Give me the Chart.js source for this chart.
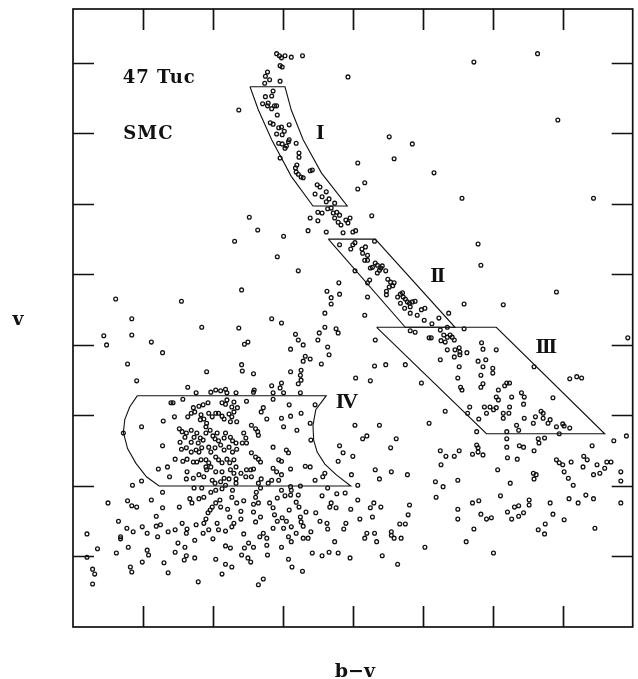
<!DOCTYPE html>
<html>
<head>
<meta charset="utf-8">
<script src="https://cdn.jsdelivr.net/npm/chart.js@4"></script>
<style>
  html, body { margin: 0; padding: 0; background: #fff; }
  #cmd { display: block; }
</style>
</head>
<body>
<canvas id="cmd" width="638" height="679"></canvas>
<script>
// axes: b-v across (one tick per unit), v up the side (one tick per unit), no tick labels
const xTicks = [1, 2, 3, 4, 5, 6, 7];
const yTicks = [1, 2, 3, 4, 5, 6, 7, 8];
const xRange = [0, 8];
const yRange = [0, 8.763];

// stars, [b-v, v]
const giantBranch = [
  [2.91,8.13],[2.95,8.10],[2.98,8.07],[3.03,8.10],[3.12,8.08],[3.28,8.10],[2.96,7.96],[2.99,7.94],
  [3.93,7.80],[2.78,7.87],[2.75,7.81],[2.74,7.71],[2.81,7.76],[2.96,7.74],[2.86,7.60],[2.84,7.53],
  [2.75,7.52],[2.71,7.42],[2.78,7.39],[2.84,7.35],[2.88,7.39],[2.91,7.39],[2.79,7.43],[2.92,7.26],
  [2.37,7.33],[2.82,7.15],[2.86,7.13],[2.94,7.08],[2.98,7.09],[3.09,7.12],[3.02,7.03],[2.91,6.99],
  [2.99,6.98],[2.94,6.86],[2.99,6.85],[3.05,6.82],[3.08,6.88],[3.09,6.91],[3.19,6.86],[3.03,6.79],
  [2.96,6.65],[3.23,6.72],[3.23,6.66],[3.20,6.55],[3.18,6.51],[3.19,6.45],[3.22,6.42],[3.26,6.38],
  [3.29,6.37],[3.39,6.47],[3.42,6.48],[3.49,6.27],[3.53,6.24],[3.46,6.14],[3.56,6.10],[3.62,6.17],
  [3.66,6.07],[3.62,6.03],[3.74,6.01],[2.52,5.81]
];

const upperStars = [
  [5.73,8.01],[6.64,8.13],[6.93,7.19],[4.52,6.95],[4.85,6.85],[4.59,6.64],[5.16,6.44],[5.56,6.08],
  [7.44,6.08],[4.17,6.30],[4.07,6.21],[4.07,6.58]
];

const midStars = [
  [3.50,5.88],[3.56,5.87],[3.64,5.93],[3.69,5.94],[3.72,5.87],[3.77,5.88],[3.81,5.84],[3.74,5.80],
  [3.79,5.74],[3.83,5.70],[3.90,5.77],[3.96,5.80],[3.93,5.73],[4.00,5.60],[4.04,5.62],[3.86,5.59],
  [3.62,5.60],[3.36,5.62],[3.39,5.80],[3.50,5.76],[4.27,5.83],
  [3.81,5.42],[3.97,5.36],[4.00,5.42],[4.03,5.45],[4.13,5.36],[4.14,5.30],[4.18,5.39],[4.21,5.27],
  [4.17,5.20],[4.21,5.20],[4.31,5.47],[4.28,5.10],[4.32,5.16],[4.35,5.13],[4.38,5.06],[4.40,5.09],
  [4.42,5.12],[4.47,5.05],[4.35,5.02],[4.25,5.09],[4.24,4.92],[4.21,4.88],[4.50,4.93],[4.54,4.89],
  [4.59,4.88],[4.57,4.84],[4.52,4.82],[4.48,4.76],[4.48,4.71],[4.64,4.68],[4.68,4.72],[4.71,4.74],
  [4.72,4.68],[4.75,4.65],[4.78,4.61],[4.81,4.59],[4.85,4.61],[4.89,4.62],[4.68,4.59],[4.74,4.52],
  [4.82,4.54],[4.82,4.45],[4.92,4.42],[4.98,4.50],[5.03,4.52],[5.02,4.35],[5.13,4.30],[5.23,4.38],
  [5.37,4.45],
  [3.80,4.88],[3.81,4.72],[3.63,4.76],[3.69,4.67],[3.69,4.58],[3.60,4.45],[4.21,4.68],[4.17,4.42],
  [4.03,5.05],[3.22,5.05],[5.79,5.43],[5.83,5.13],[6.91,4.75],[6.15,4.57],[5.59,4.58],[7.93,4.10],
  [4.82,4.20],[4.89,4.18],[5.09,4.10],[5.12,4.10],[5.25,4.21],[5.30,4.14],[5.26,4.06],[5.32,4.04],
  [5.35,4.11],[5.39,4.14],[5.42,4.11],[5.45,4.07],[5.35,4.25],[5.59,4.23],[5.46,3.93],[5.52,3.96],
  [5.53,3.90],[5.53,3.86],[5.63,3.89],[5.45,3.83],[5.25,3.79],[5.35,3.93],[5.84,4.03],[5.86,3.94],
  [6.05,3.93],[5.79,3.77],[5.90,3.79],[6.00,3.67],[6.00,3.60],[5.86,3.69],[5.83,3.57],[5.86,3.45],
  [5.83,3.40],[5.52,3.69],[5.50,3.53],[5.54,3.40],[5.56,3.36],[6.08,3.36],[6.20,3.46],[6.24,3.46],
  [6.17,3.42],[6.05,3.26],[6.08,3.22],[5.96,3.12],[5.88,3.12],[5.91,3.03],[6.01,3.08],[6.05,3.11],
  [6.15,3.03],[6.24,3.12],[6.27,3.26],[6.41,3.32],[6.45,3.26],[6.44,3.16],[6.59,3.69],[5.67,3.12],
  [5.64,3.03],[5.80,2.95],[5.77,2.77],[6.15,2.96],[6.23,3.03],[6.34,2.86],[6.37,2.79],[6.20,2.77],
  [6.20,2.67],[6.45,2.96],[6.58,2.89],[6.61,2.98],[6.69,3.06],[6.72,3.03],[6.72,2.96],[6.79,2.89],
  [6.82,2.94],[6.91,2.84],[7.00,2.88],[7.02,2.85],[7.10,2.82],[6.95,2.74],[6.86,3.25],[7.10,3.52],
  [7.20,3.55],[7.27,3.53],
  [4.32,4.07],[4.31,3.70],[4.47,3.72],[4.75,3.72],[4.98,3.46],[4.25,3.49],[4.04,3.53],[5.32,3.06],
  [5.09,2.89],[4.03,2.86],[4.38,2.86],[4.14,2.67],[4.20,2.71],[4.62,2.67],[3.81,2.57],[4.54,2.54],
  [3.22,4.07],[3.29,4.00],[3.32,3.84],[3.29,3.77],[3.26,3.64],[3.25,3.57],[3.26,3.50],[3.39,3.80],
  [3.55,3.73],[3.50,4.07],[3.52,4.17],[3.60,4.25],[3.76,4.23],[3.79,4.17],[3.64,3.97],[3.66,3.86],
  [3.40,2.65],[7.73,2.64],[7.91,2.71],[5.77,2.58],[5.79,2.54],[6.20,2.55],[6.38,2.57],[6.44,2.55],
  [6.65,2.67],[6.74,2.68],[6.66,2.61],[7.42,2.57]
];

const leftStars = [
  [2.31,5.47],[2.64,5.63],[3.01,5.54],[2.92,5.25],[2.41,4.78],[0.61,4.65],[1.55,4.62],[0.84,4.37],
  [0.44,4.13],[0.48,4.00],[0.84,4.14],[1.12,4.04],[1.28,3.89],[0.78,3.73],[1.84,4.25],[2.37,4.24],
  [2.84,4.37],[2.98,4.31],[2.45,4.01],[2.50,4.04],[2.41,3.72],[2.42,3.63],[2.58,3.59],[1.91,3.62],
  [3.11,3.94],[3.18,4.15],[3.11,3.62],[2.59,3.36],[2.96,3.39]
];

const clumpStars = [
  [0.91,3.49],[1.64,3.40],[1.76,3.32],[1.97,3.33],[2.04,3.36],[2.11,3.35],[2.18,3.37],[2.20,3.32],
  [2.33,3.32],[1.40,3.18],[1.43,3.18],[1.57,3.23],[1.80,3.13],[1.86,3.15],[1.93,3.18],[1.72,3.11],
  [1.74,3.05],[2.13,3.18],[2.20,3.22],[2.18,3.16],[2.30,3.19],[2.27,3.12],[2.35,3.11],[0.98,2.84],
  [1.29,2.92],[1.45,2.98],[1.64,2.98],[1.69,3.03],[1.83,3.01],[1.82,2.94],[1.87,2.95],[1.94,3.03],
  [2.04,3.03],[1.99,2.98],[2.08,3.03],[2.13,2.99],[2.16,2.95],[2.23,3.02],[2.27,2.98],[2.30,3.05],
  [2.34,2.91],[2.25,2.91],[1.91,2.89],[1.90,2.84],[1.52,2.81],[1.56,2.77],[1.62,2.75],[1.69,2.79],
  [1.60,2.69],[1.53,2.62],[1.69,2.62],[1.77,2.75],[1.82,2.68],[1.73,2.69],[1.79,2.61],[1.86,2.65],
  [1.90,2.75],[1.96,2.79],[2.00,2.71],[2.03,2.67],[2.06,2.75],[2.08,2.64],[2.16,2.68],[2.18,2.75],
  [2.25,2.69],[2.28,2.64],[2.33,2.61],[1.28,2.57],[1.55,2.52],[1.62,2.54],[1.69,2.48],[1.76,2.51],
  [1.80,2.48],[1.84,2.54],[1.97,2.48],[1.94,2.55],[2.03,2.54],[2.11,2.58],[2.16,2.51],[2.23,2.55],
  [2.28,2.48],[2.34,2.52],[1.46,2.38],[1.57,2.35],[1.63,2.38],[1.72,2.34],[1.77,2.34],[1.83,2.37],
  [1.90,2.37],[1.94,2.33],[1.90,2.27],[1.91,2.23],[1.97,2.27],[2.04,2.41],[2.08,2.37],[2.13,2.33],
  [2.20,2.38],[2.24,2.33],[2.30,2.37],[2.33,2.27],[1.22,2.24],[1.35,2.27],[1.63,2.20],[1.80,2.16],
  [2.04,2.20],[2.13,2.20],[2.25,2.23],[2.30,2.18],[2.33,2.10],[1.38,2.13],[1.62,2.10],[1.72,2.11],
  [1.87,2.13],[1.99,2.08],[2.03,2.04],[2.11,2.06],[2.16,2.11],[2.23,2.10],[2.33,2.04],[2.18,2.01],
  [0.85,2.01],[0.98,2.07],[1.28,1.91],[1.73,1.97],[1.84,1.97],[1.97,1.91],[2.04,1.94],[2.13,1.96],
  [2.28,1.94],[0.72,2.75],
  [2.84,3.42],[2.98,3.46],[3.22,3.45],[2.58,3.33],[2.86,3.32],[3.01,3.32],[3.25,3.32],[2.48,3.20],
  [2.86,3.23],[3.09,3.15],[3.46,3.15],[2.69,3.05],[2.72,3.11],[2.77,2.95],[2.98,2.96],[3.11,2.99],
  [3.26,3.03],[3.39,2.89],[3.01,2.84],[3.20,2.79],[2.55,2.86],[2.61,2.81],[2.64,2.77],[2.65,2.72],
  [2.44,2.75],[2.47,2.68],[2.48,2.61],[2.42,2.61],[2.86,2.55],[3.05,2.51],[3.08,2.47],[2.94,2.37],
  [2.98,2.35],[2.55,2.47],[2.61,2.41],[2.65,2.38],[2.68,2.34],[3.32,2.28],[3.39,2.27],[3.11,2.24],
  [2.86,2.25],[2.91,2.20],[2.58,2.24],[2.54,2.23],[2.48,2.23],[2.40,2.18],[2.47,2.13],[3.60,2.18],
  [3.57,2.13],[3.46,2.08],[2.98,2.16],[2.94,2.08],[2.84,2.08],[2.79,2.04],[2.69,2.10],[2.65,2.04],
  [2.55,2.13],[3.25,2.00],[3.11,1.99],[3.12,1.94],[2.98,1.94],[2.68,1.97],[2.62,1.91],[3.64,1.97],
  [3.89,1.90],[3.86,2.47],[3.79,2.35],[4.00,2.42],[3.98,2.16],[4.07,2.01]
];

const faintStars = [
  [0.50,1.76],[0.78,1.79],[0.84,1.72],[0.91,1.70],[1.12,1.80],[1.52,1.70],[1.67,1.82],[1.70,1.76],
  [1.80,1.82],[1.87,1.84],[1.28,1.69],[1.19,1.57],[1.19,1.43],[1.25,1.45],[0.65,1.50],[0.77,1.40],
  [0.86,1.35],[0.99,1.42],[1.06,1.33],[0.68,1.28],[0.68,1.25],[1.21,1.28],[1.36,1.35],[1.46,1.38],
  [1.56,1.47],[1.63,1.39],[1.62,1.33],[1.76,1.45],[1.87,1.47],[1.90,1.53],[1.93,1.62],[1.96,1.66],
  [1.99,1.70],[2.04,1.76],[1.86,1.33],[1.74,1.23],[1.94,1.38],[2.06,1.47],[2.08,1.38],[2.18,1.36],
  [2.27,1.42],[2.30,1.47],[2.24,1.56],[2.21,1.67],[2.11,1.70],[2.10,1.80],[2.27,1.84],[2.34,1.76],
  [2.00,1.25],[2.18,1.15],[2.25,1.12],[1.50,1.19],[1.60,1.13],[1.62,1.01],[1.59,0.95],[1.46,1.06],
  [1.74,0.98],[1.06,1.09],[1.08,1.02],[0.79,1.13],[0.62,1.05],[0.35,1.11],[0.20,1.32],[0.20,0.99],
  [0.99,0.92],[1.30,0.91],[0.82,0.85],[0.84,0.78],[1.36,0.77],[0.28,0.82],[0.31,0.75],[0.28,0.61],
  [1.79,0.64],[2.04,0.96],[2.18,0.89],[2.27,0.85],[2.13,0.75],
  [2.44,1.79],[2.40,1.64],[2.61,1.84],[2.65,1.76],[2.58,1.74],[2.81,1.76],[2.92,1.83],[3.03,1.86],
  [3.11,1.87],[3.22,1.87],[3.19,1.77],[3.56,1.86],[3.77,1.89],[3.69,1.76],[3.67,1.70],[3.76,1.69],
  [4.07,1.80],[4.30,1.76],[4.25,1.69],[2.58,1.63],[2.61,1.49],[2.68,1.56],[2.86,1.69],[2.88,1.59],
  [2.99,1.55],[3.05,1.50],[2.92,1.50],[3.09,1.66],[3.23,1.70],[3.33,1.63],[3.47,1.62],[3.25,1.56],
  [3.26,1.49],[3.29,1.43],[3.12,1.42],[3.53,1.50],[3.63,1.47],[3.64,1.39],[3.87,1.39],[3.90,1.47],
  [3.97,1.67],[4.10,1.53],[4.28,1.56],[4.17,1.26],[4.20,1.33],[4.31,1.33],[4.34,1.21],[2.40,1.53],
  [2.44,1.32],[2.51,1.19],[2.58,1.13],[2.45,1.12],[2.67,1.28],[2.72,1.33],[2.77,1.26],[2.77,1.16],
  [2.98,1.13],[2.86,1.40],[3.01,1.40],[3.08,1.28],[3.12,1.21],[3.29,1.26],[3.36,1.26],[3.40,1.35],
  [3.19,1.33],[3.42,1.05],[3.56,1.01],[3.66,1.06],[3.79,1.05],[3.74,1.21],[3.96,0.98],[2.78,1.02],
  [2.41,1.02],[2.50,0.98],[2.54,0.92],[3.08,0.96],[3.13,0.85],[3.28,0.79],[2.72,0.68],[2.65,0.60]
];

const redStars = [
  [5.79,2.48],[5.86,2.44],[5.71,2.45],[5.25,2.50],[5.33,2.42],[5.26,2.30],[5.45,2.42],[5.52,2.50],
  [6.21,2.40],[6.35,2.38],[6.07,2.23],[6.58,2.18],[6.62,2.16],[6.59,2.10],[6.91,2.37],[6.95,2.33],
  [7.00,2.30],[7.02,2.20],[7.08,2.11],[7.15,2.01],[7.12,2.34],[7.30,2.42],[7.35,2.37],[7.29,2.27],
  [7.49,2.30],[7.44,2.16],[7.53,2.18],[7.60,2.25],[7.63,2.34],[7.69,2.34],[7.83,2.20],[7.83,2.07],
  [6.59,2.50],[7.09,1.82],[7.22,1.76],[7.33,1.87],[7.44,1.82],[7.83,1.76],[7.46,1.40],[6.25,2.04],
  [6.11,1.86],[6.52,1.80],[6.52,1.73],[6.44,1.62],[6.37,1.72],[6.31,1.70],[6.37,1.57],[6.27,1.53],
  [6.21,1.63],[6.82,1.76],[6.86,1.60],[6.75,1.46],[6.74,1.32],[6.65,1.38],[7.02,1.52],[6.01,1.05],
  [5.71,1.76],[5.80,1.79],[5.83,1.60],[5.91,1.53],[5.98,1.55],[5.73,1.39],[5.50,1.67],[5.50,1.53],
  [5.62,1.21],[5.18,2.06],[5.19,1.84],[5.29,1.99],[5.50,2.08],[5.03,1.13],[4.78,2.16],[4.81,1.73],
  [4.79,1.59],[4.75,1.46],[4.67,1.46],[4.55,2.20],[4.38,2.10],[4.32,2.23],[4.40,1.70],[4.55,1.35],
  [4.55,1.30],[4.59,1.26],[4.69,1.26],[4.42,1.01],[4.64,0.89]
];

// selection boxes I-IV (outline vertices, closed)
const boxI = [
  [2.53,7.66],[3.03,7.66],[3.12,7.33],[3.29,6.91],[3.55,6.44],[3.92,5.97],[3.43,5.97],[3.12,6.39],
  [2.84,6.91],[2.65,7.33],[2.53,7.66]
];
const boxII = [[3.65,5.50],[4.32,5.50],[5.46,4.25],[4.75,4.25],[3.65,5.50]];
const boxIII = [[4.34,4.25],[6.05,4.25],[7.60,2.74],[5.91,2.74],[4.34,4.25]];
const boxIV = [
  [0.92,3.28],[3.62,3.28],[3.47,3.08],[3.43,2.86],[3.44,2.65],[3.49,2.48],[3.60,2.31],[3.76,2.16],
  [3.97,2.00],[1.23,2.00],[1.05,2.13],[0.90,2.32],[0.78,2.53],[0.72,2.76],[0.74,2.94],[0.81,3.12],
  [0.92,3.28]
];

const clusterNames = ["47 Tuc", "SMC"];
const clusterNameX = [0.71, 0.72];
const clusterNameY = [7.71, 6.92];

const boxNames = ["I", "II", "III", "IV"];
const boxNameX = [3.52, 5.20, 6.75, 3.90];
const boxNameY = [6.92, 4.89, 3.89, 3.11];

const toXY = (pts) => pts.map(p => ({ x: p[0], y: p[1] }));

const allStars = [].concat(giantBranch, upperStars, midStars, leftStars, clumpStars, faintStars, redStars);

function outline(pts) {
  return {
    data: toXY(pts),
    showLine: true,
    borderColor: "#111",
    borderWidth: 1.1,
    pointRadius: 0,
    fill: false,
    tension: 0,
  };
}

const tickLen = 21;

const framePlugin = {
  id: "frame",
  afterDatasetsDraw(chart) {
    const ctx = chart.ctx;
    const a = chart.chartArea;
    const xs = chart.scales.x;
    const ys = chart.scales.y;
    ctx.save();
    ctx.strokeStyle = "#111";
    ctx.lineWidth = 1.7;
    ctx.strokeRect(a.left, a.top, a.right - a.left, a.bottom - a.top);

    ctx.beginPath();
    xTicks.forEach(v => {
      const px = Math.round(xs.getPixelForValue(v)) + 0.5;
      ctx.moveTo(px, a.bottom); ctx.lineTo(px, a.bottom - tickLen);
      ctx.moveTo(px, a.top); ctx.lineTo(px, a.top + tickLen);
    });
    yTicks.forEach(v => {
      const py = Math.round(ys.getPixelForValue(v)) + 0.5;
      ctx.moveTo(a.left, py); ctx.lineTo(a.left + tickLen, py);
      ctx.moveTo(a.right, py); ctx.lineTo(a.right - tickLen, py);
    });
    ctx.stroke();

    ctx.fillStyle = "#111";
    ctx.textBaseline = "alphabetic";

    // cluster names, top left
    ctx.font = "bold 18px 'DejaVu Serif'";
    ctx.letterSpacing = "1px";
    ctx.textAlign = "left";
    clusterNames.forEach((t, i) => {
      ctx.fillText(t, xs.getPixelForValue(clusterNameX[i]), ys.getPixelForValue(clusterNameY[i]));
    });

    // box numerals
    ctx.font = "bold 22px 'Liberation Serif'";
    ctx.letterSpacing = "-2px";
    ctx.textAlign = "center";
    boxNames.forEach((t, i) => {
      ctx.fillText(t, xs.getPixelForValue(boxNameX[i]), ys.getPixelForValue(boxNameY[i]));
    });

    // axis titles
    ctx.letterSpacing = "0px";
    ctx.font = "bold 19px 'DejaVu Serif'";
    ctx.fillText("v", a.left - 55, (a.top + a.bottom) / 2 + 7);
    ctx.fillText("b\u2212v", (a.left + a.right) / 2 + 2, a.bottom + 50);
    ctx.restore();
  }
};

new Chart(document.getElementById("cmd"), {
  type: "scatter",
  data: {
    datasets: [
      outline(boxI),
      outline(boxII),
      outline(boxIII),
      outline(boxIV),
      {
        data: toXY(allStars),
        pointStyle: "circle",
        pointRadius: 1.9,
        pointBorderWidth: 1.3,
        pointBorderColor: "#111",
        pointBackgroundColor: "rgba(255,255,255,0)",
        showLine: false,
      },
    ],
  },
  options: {
    responsive: false,
    animation: false,
    devicePixelRatio: 1,
    layout: { padding: { left: 73, right: 1, top: 9, bottom: 52 } },
    scales: {
      x: { type: "linear", min: xRange[0], max: xRange[1], display: false },
      y: { type: "linear", min: yRange[0], max: yRange[1], display: false },
    },
    plugins: {
      legend: { display: false },
      tooltip: { enabled: false },
    },
    events: [],
  },
  plugins: [framePlugin],
});
</script>
</body>
</html>
